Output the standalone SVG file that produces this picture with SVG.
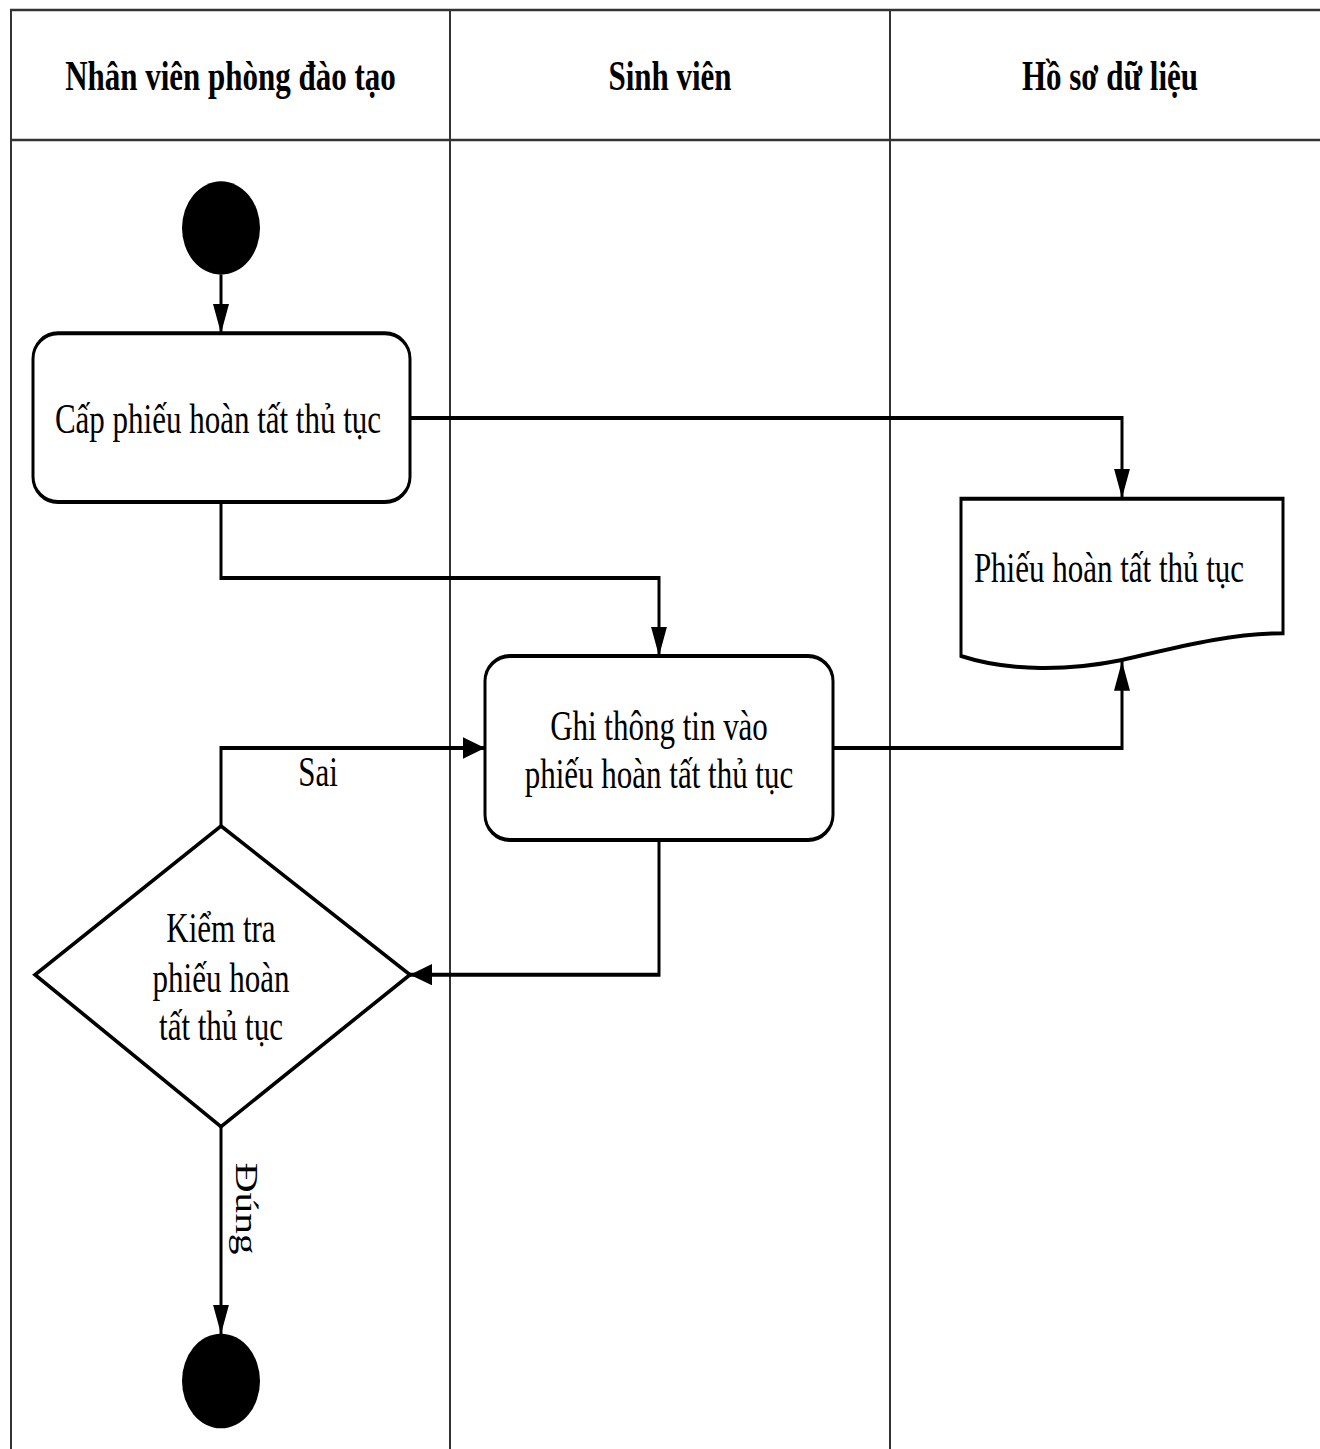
<svg xmlns="http://www.w3.org/2000/svg" width="1320" height="1449" viewBox="0 0 1320 1449">
  <style>
    .lane { fill: none; stroke: #333; stroke-width: 2; }
    .shape { fill: #fff; stroke: #000; stroke-width: 3; }
    .dot { fill: #000; stroke: none; }
    .flow { fill: none; stroke: #000; stroke-width: 3; marker-end: url(#arrow); }
    .hdr { font-family: "Liberation Serif", "Times New Roman", serif; font-size: 31px; font-weight: bold; fill: #000; text-anchor: middle; }
    .lbl { font-family: "Liberation Serif", "Times New Roman", serif; font-size: 31px; fill: #000; text-anchor: middle; }
  </style>
  <defs>
    <marker id="arrow" viewBox="0 0 22 16" refX="22" refY="8" markerWidth="22" markerHeight="16" markerUnits="userSpaceOnUse" orient="auto">
      <path d="M0,0 L22,8 L0,16 Z" fill="#000"/>
    </marker>
  </defs>
  <rect width="1320" height="1449" fill="#fff"/>

  <!-- drawing is laid out in a compressed vertical space and stretched by 4/3 -->
  <g transform="scale(1,1.33333)">
    <!-- swimlanes -->
    <g id="lanes">
      <path class="lane" d="M11,1100 V7.5 H1330 M11,105 H1330 M450,7.5 V1100 M890,7.5 V1100"/>
      <text class="hdr" x="230.5" y="67.5">Nhân viên phòng đào tạo</text>
      <text class="hdr" x="670" y="67.5">Sinh viên</text>
      <text class="hdr" x="1110" y="67.5">Hồ sơ dữ liệu</text>
    </g>

    <!-- connectors -->
    <g id="connectors">
      <path class="flow" d="M221,206 V250"/>
      <path class="flow" d="M410,313.5 H1122 V373.5"/>
      <path class="flow" d="M221,376.5 V433.5 H659 V492"/>
      <path class="flow" d="M833,561 H1122 V496"/>
      <path class="flow" d="M221,619.5 V561 H485"/>
      <path class="flow" d="M659,630 V731 H410"/>
      <path class="flow" d="M221,845 V1000.5"/>
      <text class="lbl" x="318" y="589.5">Sai</text>
      <text class="lbl" text-anchor="start" style="text-anchor:start" transform="translate(236,872) rotate(90)">Đúng</text>
    </g>

    <g id="start">
      <ellipse class="dot" cx="221" cy="171" rx="39" ry="35"/>
    </g>

    <g id="cap-phieu">
      <rect class="shape" x="33" y="250" width="377" height="126.5" rx="25" ry="19"/>
      <text class="lbl" x="218" y="325">Cấp phiếu hoàn tất thủ tục</text>
    </g>

    <g id="phieu-doc">
      <path class="shape" d="M961,374 H1283 V475 C1230,475 1180,485 1122,495 C1070,503 1010,504 961,492 Z"/>
      <text class="lbl" x="1109" y="436.5">Phiếu hoàn tất thủ tục</text>
    </g>

    <g id="ghi-thong-tin">
      <rect class="shape" x="485" y="492" width="348" height="138" rx="25" ry="19"/>
      <text class="lbl" x="659" y="555">Ghi thông tin vào</text>
      <text class="lbl" x="659" y="591">phiếu hoàn tất thủ tục</text>
    </g>

    <g id="kiem-tra">
      <path class="shape" d="M221,619.5 L410,731 L221,845 L35,731 Z"/>
      <text class="lbl" x="221" y="706.5">Kiểm tra</text>
      <text class="lbl" x="221" y="744">phiếu hoàn</text>
      <text class="lbl" x="221" y="780">tất thủ tục</text>
    </g>

    <g id="end">
      <ellipse class="dot" cx="221" cy="1035.75" rx="39" ry="35.5"/>
    </g>
  </g>
</svg>
